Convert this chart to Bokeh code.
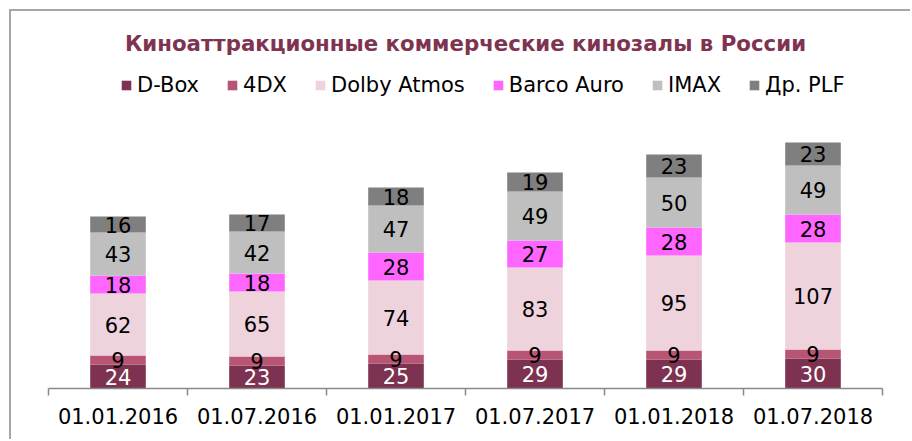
from bokeh.plotting import figure
from bokeh.models import (ColumnDataSource, LabelSet, Legend, LegendItem, FixedTicker,
                          Range1d)
from bokeh.core.properties import value
from bokeh.embed import file_html
from bokeh.resources import INLINE

categories = ["01.01.2016", "01.07.2016", "01.01.2017", "01.07.2017", "01.01.2018", "01.07.2018"]
series_names = ["D-Box", "4DX", "Dolby Atmos", "Barco Auro", "IMAX", "Др. PLF"]
d_box = [24, 23, 25, 29, 29, 30]
fourdx = [9, 9, 9, 9, 9, 9]
dolby_atmos = [62, 65, 74, 83, 95, 107]
barco_auro = [18, 18, 28, 27, 28, 28]
imax = [43, 42, 47, 49, 50, 49]
other_plf = [16, 17, 18, 19, 23, 23]

colors = ["#7C3250", "#B85474", "#EED3DD", "#FF66FF", "#BFBFBF", "#7F7F7F"]
label_colors = ["white", "black", "black", "black", "black", "black"]
series = [d_box, fourdx, dolby_atmos, barco_auro, imax, other_plf]
keys = ["s0", "s1", "s2", "s3", "s4", "s5"]

FONT = "DejaVu Sans"

xs = [i + 0.5 for i in range(len(categories))]
data = {"x": xs}
for k, s in zip(keys, series):
    data[k] = s
source = ColumnDataSource(data)

p = figure(width=901, height=430, output_backend="svg", toolbar_location=None,
           x_range=Range1d(0, len(categories)), y_range=Range1d(0, 328),
           min_border_left=37, min_border_right=30, min_border_top=49, min_border_bottom=53,
           title="Киноаттракционные коммерческие кинозалы в России")
p.styles = {"margin-left": "9px", "margin-top": "9px",
            "border-left": "2px solid #a6a6a6", "border-top": "2px solid #a6a6a6"}

p.title.text_font = FONT
p.title.text_font_size = "21.3px"
p.title.text_font_style = "bold"
p.title.text_color = "#7E3451"
p.title.align = "center"

renderers = p.vbar_stack(keys, x="x", width=0.4, source=source, color=colors, line_width=0)

# labels
bottom = [0] * len(categories)
for k, s, lc in zip(keys, series, label_colors):
    mids = [b + v / 2 for b, v in zip(bottom, s)]
    lsrc = ColumnDataSource({"x": xs, "y": mids, "t": [str(v) for v in s]})
    p.add_layout(LabelSet(x="x", y="y", text="t", source=lsrc, text_align="center",
                          text_baseline="middle", text_font=value(FONT), text_font_size=value("21px"),
                          text_color=value(lc)))
    bottom = [b + v for b, v in zip(bottom, s)]

legend = Legend(items=[LegendItem(label=n, renderers=[r]) for n, r in zip(series_names, renderers)],
                orientation="horizontal", location=(72, 291),
                glyph_width=12, glyph_height=12, label_standoff=5, spacing=27,
                padding=0, margin=0, border_line_color=None, background_fill_alpha=0,
                label_text_font=FONT, label_text_font_size="21px", label_text_color="black")
p.add_layout(legend, "center")

p.yaxis.visible = False
p.xgrid.visible = False
p.ygrid.visible = False
p.outline_line_color = None

xa = p.xaxis[0]
xa.ticker = FixedTicker(ticks=xs, minor_ticks=list(range(len(categories) + 1)))
xa.major_label_overrides = {x: c for x, c in zip(xs, categories)}
xa.major_tick_out = 0
xa.major_tick_in = 0
xa.minor_tick_out = 7
xa.minor_tick_in = 0
xa.minor_tick_line_color = "#898989"
xa.axis_line_color = "#898989"
xa.axis_line_width = 1.5
xa.minor_tick_line_width = 1.5
xa.major_label_standoff = 12
xa.major_label_text_font = FONT
xa.major_label_text_font_size = "21px"
xa.major_label_text_color = "black"

open("out.html", "w").write(file_html(p, INLINE))
